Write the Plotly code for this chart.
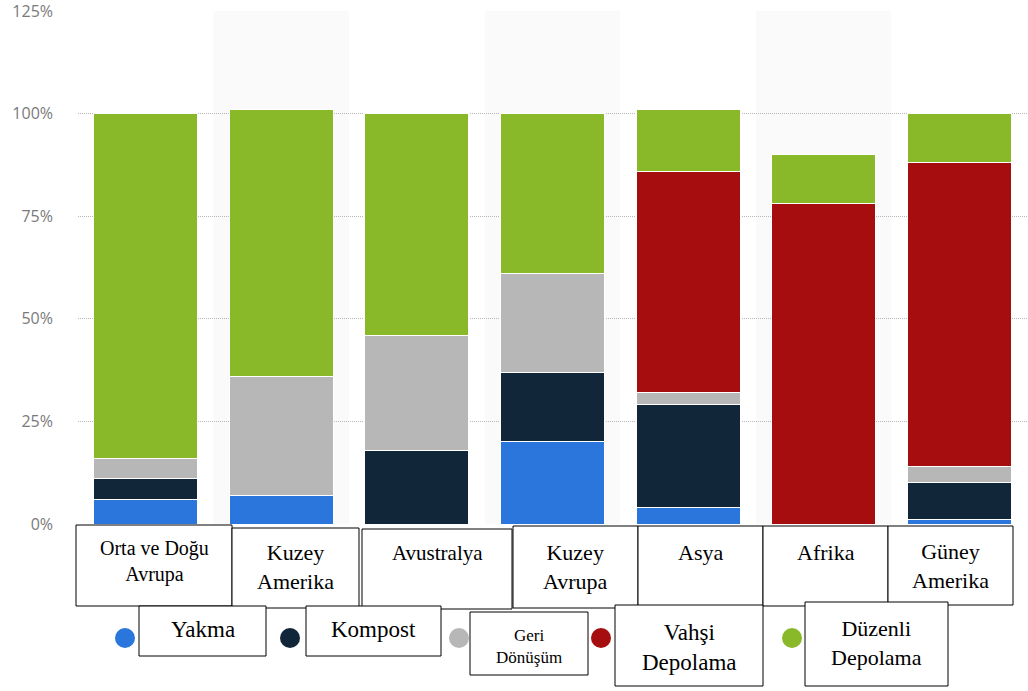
import plotly.graph_objects as go

regions = ["Orta ve Doğu Avrupa", "Kuzey Amerika", "Avustralya", "Kuzey Avrupa",
           "Asya", "Afrika", "Güney Amerika"]
region_labels = ["Orta ve Doğu<br>Avrupa", "Kuzey<br>Amerika", "Avustralya",
                 "Kuzey<br>Avrupa", "Asya", "Afrika", "Güney<br>Amerika"]

series_names = ["Yakma", "Kompost", "Geri Dönüşüm", "Vahşi Depolama", "Düzenli Depolama"]
series_labels = ["Yakma", "Kompost", "Geri<br>Dönüşüm", "Vahşi<br>Depolama", "Düzenli<br>Depolama"]
series_colors = ["#2a76dd", "#12263a", "#b7b7b7", "#a50d0e", "#89b928"]

yakma = [6, 7, 0, 20, 4, 0, 1]
kompost = [5, 0, 18, 17, 25, 0, 9]
geri_donusum = [5, 29, 28, 24, 3, 0, 4]
vahsi_depolama = [0, 0, 0, 0, 54, 78, 74]
duzenli_depolama = [84, 65, 54, 39, 15, 12, 12]

y_ticks = [0, 25, 50, 75, 100, 125]
y_tick_labels = ["0%", "25%", "50%", "75%", "100%", "125%"]

W, H = 1028, 691
L, R, T, B = 78, 1, 11, 691 - 524
PW, PH = W - L - R, H - T - B


def px_x(x):
    return (x - L) / PW


def px_y(y):
    return (H - B - y) / PH


fig = go.Figure()
values = [yakma, kompost, geri_donusum, vahsi_depolama, duzenli_depolama]
for name, vals, col in zip(series_names, values, series_colors):
    fig.add_trace(go.Bar(
        x=list(range(len(regions))), y=vals, name=name,
        marker=dict(color=col, line=dict(color="white", width=1)),
        hovertext=regions, showlegend=False,
    ))

shapes = []
# light column bands behind every second category
for i in range(1, len(regions), 2):
    shapes.append(dict(type="rect", xref="x", yref="paper", x0=i - 0.5, x1=i + 0.5,
                       y0=0, y1=1, fillcolor="#fafafa", line_width=0, layer="below"))

# boxed category labels (pixel coords)
cat_boxes = [(76, 232, 525, 606), (232, 359, 528, 608), (362, 512, 529, 609),
             (513, 638, 526, 608), (638, 763, 526, 606), (763, 888, 526, 606),
             (888, 1013, 526, 605)]
cat_text_y = [562, 567, 553, 567, 552, 552, 566]
cat_sizes = [20, 22, 21, 22, 22, 22, 22]

# boxed legend labels
leg_boxes = [(139, 266, 606, 656), (306, 441, 606, 656), (470, 588, 612, 675),
             (615, 763, 605, 686), (805, 948, 602, 686)]
leg_text_y = [629, 629, 646, 647, 643]
leg_sizes = [23, 23, 17, 23, 22]
leg_dots = [(125, 638), (290, 638), (459, 638), (601, 638), (792, 638)]

annotations = []
for (x0, x1, y0, y1), txt, ty, fs in list(zip(cat_boxes, region_labels, cat_text_y, cat_sizes)) + \
        list(zip(leg_boxes, series_labels, leg_text_y, leg_sizes)):
    shapes.append(dict(type="rect", xref="paper", yref="paper",
                       x0=px_x(x0), x1=px_x(x1), y0=px_y(y1), y1=px_y(y0),
                       fillcolor="white", line=dict(color="black", width=1), layer="above"))
    annotations.append(dict(text=txt, xref="paper", yref="paper", x=px_x((x0 + x1) / 2),
                            y=px_y(ty), xanchor="center", yanchor="middle", showarrow=False,
                            font=dict(family="Liberation Serif", size=fs, color="black")))

for (cx, cy), col in zip(leg_dots, series_colors):
    shapes.append(dict(type="circle", xref="paper", yref="paper", xsizemode="pixel",
                       ysizemode="pixel", xanchor=px_x(cx), yanchor=px_y(cy),
                       x0=-10, x1=10, y0=-10, y1=10, fillcolor=col, line_width=0,
                       layer="above"))

fig.update_layout(
    width=W, height=H,
    margin=dict(l=L, r=R, t=T, b=B, autoexpand=False),
    plot_bgcolor="white", paper_bgcolor="white",
    barmode="stack", bargap=0.233,
    xaxis=dict(range=[-0.5, len(regions) - 0.5], showticklabels=False, showgrid=False,
               zeroline=False, showline=False, fixedrange=True),
    yaxis=dict(range=[0, 125], tickmode="array", tickvals=y_ticks, ticktext=y_tick_labels,
               showgrid=True, gridcolor="#b8b8b8", griddash="1px,1px", gridwidth=1,
               zeroline=False, showline=False, ticklabelstandoff=24,
               ticklabeloverflow="allow",
               tickfont=dict(family="Open Sans", size=16, color="#7a7a7a")),
    shapes=shapes, annotations=annotations,
)

# drop the default page margin so the figure sits at the window corner
fig.write_html("out.html", config={"displayModeBar": False},
               post_script="document.body.style.margin = '0px';")
